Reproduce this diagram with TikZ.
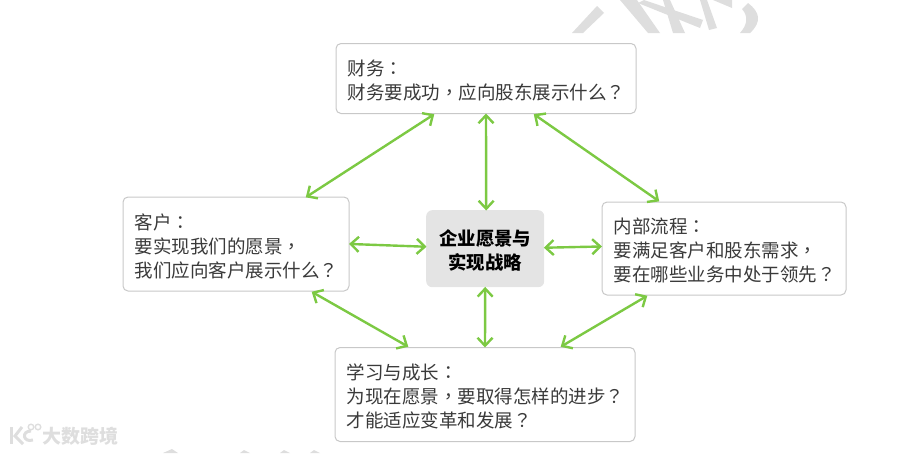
\documentclass[tikz,border=0pt]{standalone}
\usepackage{fontspec}
\setmainfont{Noto Sans CJK SC}
\newfontfamily\tcp{Noto Sans CJK TC}
\usetikzlibrary{arrows.meta,calc}
\definecolor{lineg}{HTML}{7CC943}
\definecolor{boxe}{HTML}{C8C8C8}
\definecolor{corefill}{HTML}{E4E4E4}
\definecolor{wm}{HTML}{DEDEDE}
\definecolor{tx}{HTML}{3A3A3A}
\newcommand{\cm}{{\tcp ：}}
\newcommand{\cc}{{\tcp ，}}
\newcommand{\cq}{{\tcp ？}}
\tikzset{
  x=1pt,y=-1pt,
  infobox/.style={draw=boxe,line width=1pt,rounded corners=5pt,fill=white,anchor=north west,inner sep=0pt},
  infotext/.style={anchor=west,align=left,inner sep=0pt,text=tx,font=\fontsize{18.5}{24}\selectfont},
  corebox/.style={fill=corefill,rounded corners=6pt,anchor=north west,inner sep=0pt},
  coretext/.style={align=center,inner sep=0pt,text=black,font=\fontsize{18.4}{24}\selectfont\bfseries},
  link/.style={draw=lineg,line width=2.4pt,shorten >=-1.5pt,shorten <=-1.5pt,{Straight Barb[length=8pt,width=15pt,line width=2.4pt]}-{Straight Barb[length=8pt,width=15pt,line width=2.4pt]}},
}
\begin{document}
\begin{tikzpicture}
\useasboundingbox (0,0) rectangle (908,453);
% watermark strokes
\fill[wm] (572,33) -- (597,6) -- (604,13) -- (583,33) -- cycle;
\fill[wm] (620,0) -- (637,0) -- (660,33) -- (648,33) -- cycle;
\fill[wm] (638,3) -- (644,0) -- (703,20) -- (700,28) -- cycle;
\fill[wm] (663,0) -- (670,0) -- (685,33) -- (673,33) -- cycle;
\fill[wm] (700,0) -- (707,0) -- (717,28) -- (709,30) -- cycle;
\fill[wm] (713,0) -- (732,0) -- (732,8) -- cycle;
\fill[wm] (740,33) .. controls (748,24) and (748,16) .. (742,9) -- (748,3) .. controls (760,12) and (762,22) .. (750,33) -- cycle;
\fill[wm] (163,453) -- (172,449) -- (178,453) -- cycle;
\fill[wm] (240,453) -- (244,450) -- (250,453) -- cycle;
\fill[wm] (280,453) -- (284,450) -- (290,453) -- cycle;
\fill[wm] (310,453) -- (314,450) -- (320,453) -- cycle;
% logo
\draw[wm,line width=3pt] (11,427) -- (11,444);
\draw[wm,line width=3pt] (22,427) -- (15,436) -- (23,444);
\draw[wm,line width=3pt] (31,431) .. controls (21,431) and (23,443) .. (33,440);
\draw[wm,line width=1.4pt] (31,427) circle (2.8);
\draw[wm,line width=1.4pt] (38,427) circle (2.8);
\node[text=wm,font=\fontsize{19}{19}\selectfont\bfseries,inner sep=0pt] (wmark) at (80,436) {大数跨境};
% nodes
\node[infobox,minimum width=300pt,minimum height=70pt] (fin) at (335.5,43) {};
\node[infotext] (fintext) at ($(fin.west)+(12,2)$) {财务\cm\\财务要成功\cc 应向股东展示什么\cq};
\node[infobox,minimum width=226pt,minimum height=94pt] (cust) at (122.5,196.5) {};
\node[infotext] (custtext) at ($(cust.west)+(12,2)$) {客户\cm\\要实现我们的愿景\cc\\我们应向客户展示什么\cq};
\node[infobox,minimum width=244pt,minimum height=93pt] (int) at (601.5,201.5) {};
\node[infotext] (inttext) at ($(int.west)+(12,2)$) {内部流程\cm\\要满足客户和股东需求\cc\\要在哪些业务中处于领先\cq};
\node[infobox,minimum width=300pt,minimum height=94pt] (learn) at (334.5,347) {};
\node[infotext] (learntext) at ($(learn.west)+(12,2)$) {学习与成长\cm\\为现在愿景\cc 要取得怎样的进步\cq\\才能适应变革和发展\cq};
\node[corebox,minimum width=118pt,minimum height=77pt] (core) at (426,210) {};
\node[coretext] (coretxt) at ($(core.center)+(0,1.5)$) {企业愿景与\\实现战略};
% connectors
\draw[link] ($(fin.south)+(-53,1)$) -- ($(cust.north)+(71,0)$);
\draw[link] ($(fin.south)+(0,1)$) -- ($(core.north)+(1,-1)$);
\draw[link] ($(fin.south)+(49,1)$) -- ($(int.north)+(-66,-1)$);
\draw[link] ($(cust.east)+(1,0)$) -- ($(core.west)+(-1,-2)$);
\draw[link] ($(core.east)+(1,-1)$) -- ($(int.west)+(-1,-2)$);
\draw[link] ($(cust.south)+(77,1)$) -- ($(learn.north)+(-78,-1)$);
\draw[link] ($(core.south)+(0,1)$) -- ($(learn.north)+(0,-1)$);
\draw[link] ($(int.south)+(-78,1)$) -- ($(learn.north)+(77,-1)$);
\end{tikzpicture}
\end{document}
